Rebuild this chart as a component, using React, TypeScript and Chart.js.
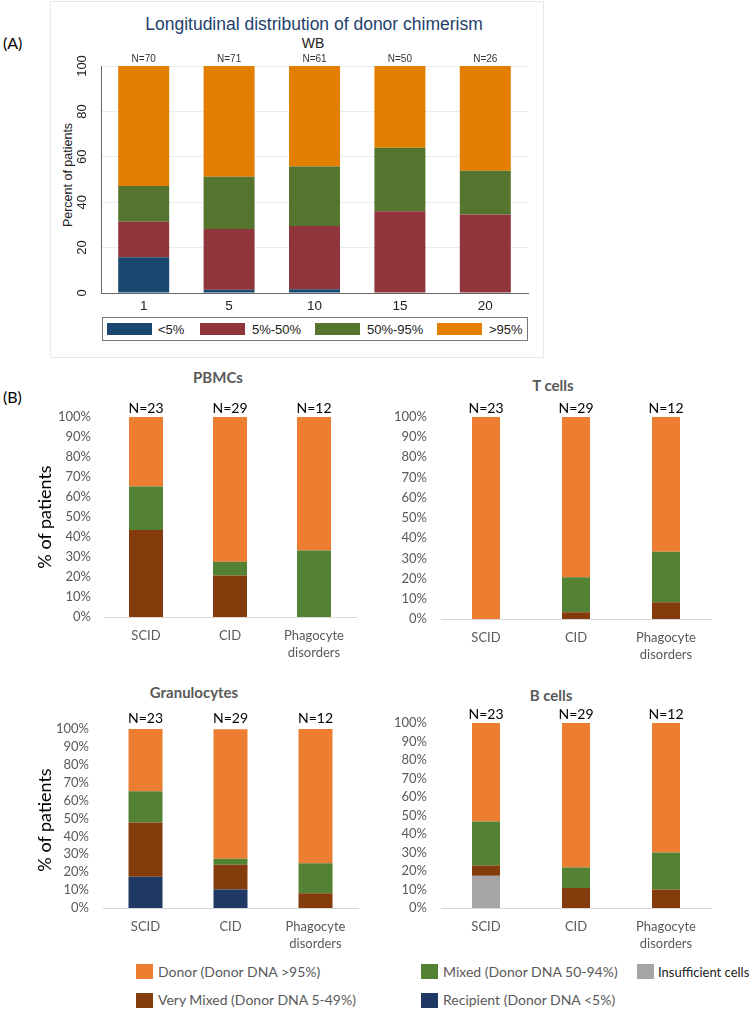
import React, { useEffect, useRef } from 'react';
import { Chart, registerables } from 'chart.js';

Chart.register(...registerables);

// ---------------- Panel A data ----------------
const categoriesA = ['1', '5', '10', '15', '20'];
const nA = [70, 71, 61, 50, 26];
const aBelow5 = [15.7, 1.4, 1.6, 0, 0];
const a5to50 = [15.7, 26.8, 27.9, 36.0, 34.6];
const a50to95 = [15.7, 23.0, 26.2, 28.0, 19.2];
const aAbove95 = [52.9, 48.8, 44.3, 36.0, 46.2];
const legendA = ['<5%', '5%-50%', '50%-95%', '>95%'];
const colorsA = ['#1a476f', '#90353b', '#55752f', '#e37e00'];

// ---------------- Panel B data ----------------
const categoriesB = ['SCID', 'CID', ['Phagocyte', 'disorders']];
const nB = [23, 29, 12];

const pbmcVeryMixed = [43.5, 20.7, 0];
const pbmcMixed = [21.7, 6.9, 33.3];
const pbmcDonor = [34.8, 72.4, 66.7];

const tcellVeryMixed = [0, 3.4, 8.3];
const tcellMixed = [0, 17.2, 25.0];
const tcellDonor = [100, 79.3, 66.7];

const granRecipient = [17.4, 10.3, 0];
const granVeryMixed = [30.4, 13.8, 8.3];
const granMixed = [17.4, 3.4, 16.7];
const granDonor = [34.8, 72.4, 75.0];

const bcellInsufficient = [17.4, 0, 0];
const bcellVeryMixed = [5.6, 10.8, 10.0];
const bcellMixed = [23.7, 11.1, 20.0];
const bcellDonor = [53.3, 78.1, 70.0];

const legendB = {
  donor: 'Donor (Donor DNA >95%)',
  mixed: 'Mixed (Donor DNA 50-94%)',
  insufficient: 'Insufficient cells',
  veryMixed: 'Very Mixed (Donor DNA 5-49%)',
  recipient: 'Recipient (Donor DNA <5%)',
};
const colorsB = {
  donor: '#ed7d31',
  mixed: '#548235',
  veryMixed: '#843c0c',
  recipient: '#203864',
  insufficient: '#a5a5a5',
};

const FONT_A = '"Liberation Sans", Arial, sans-serif';
const FONT_B = 'Lato, "Open Sans", sans-serif';

function nLabelsPlugin(values: number[], font: string, color: string, offset: number) {
  return {
    id: 'nLabels',
    afterDatasetsDraw(chart: any) {
      const { ctx, chartArea } = chart;
      const xs = chart.scales.x;
      ctx.save();
      ctx.font = font;
      ctx.fillStyle = color;
      ctx.textAlign = 'center';
      ctx.textBaseline = 'middle';
      values.forEach((n, i) => {
        ctx.fillText('N=' + n, xs.getPixelForValue(i), chartArea.top - offset);
      });
      ctx.restore();
    },
  };
}

type Dims = {
  left: number; top: number; width: number; height: number;
  padTop: number; padRight: number; yW: number; xH: number;
};

function ChartCanvas({ dims, build }: { dims: Dims; build: () => any }) {
  const ref = useRef<HTMLCanvasElement | null>(null);
  useEffect(() => {
    const chart = new Chart(ref.current as HTMLCanvasElement, build());
    return () => chart.destroy();
  }, []);
  return (
    <div style={{ position: 'absolute', left: dims.left, top: dims.top, width: dims.width, height: dims.height }}>
      <canvas ref={ref} width={dims.width} height={dims.height} style={{ display: 'block', width: dims.width, height: dims.height }} />
    </div>
  );
}

function buildA(d: Dims) {
  const series = [aBelow5, a5to50, a50to95, aAbove95];
  return {
    type: 'bar',
    data: {
      labels: categoriesA,
      datasets: series.map((s, i) => ({
        label: legendA[i],
        data: s,
        backgroundColor: colorsA[i],
        borderWidth: 0,
        categoryPercentage: 1,
        barPercentage: 0.597,
      })),
    },
    options: {
      animation: false,
      responsive: false,
      maintainAspectRatio: false,
      layout: { padding: { top: d.padTop, right: d.padRight, left: 0, bottom: 0 } },
      plugins: { legend: { display: false }, tooltip: { enabled: false } },
      scales: {
        x: {
          stacked: true,
          grid: { display: false, drawTicks: false },
          border: { display: true, color: '#666666', width: 1 },
          ticks: { color: '#222', font: { family: FONT_A, size: 13.5 }, padding: 5, maxRotation: 0, autoSkip: false },
          afterFit: (s: any) => { s.height = d.xH; },
        },
        y: {
          stacked: true,
          min: 0,
          max: 100,
          grid: { color: '#e4eef1', drawTicks: false },
          border: { display: true, color: '#666666', width: 1 },
          ticks: {
            stepSize: 20,
            autoSkip: false,
            minRotation: 90,
            maxRotation: 90,
            crossAlign: 'center',
            padding: 8,
            color: '#222',
            font: { family: FONT_A, size: 13 },
          },
          afterFit: (s: any) => { s.width = d.yW; },
        },
      },
    },
    plugins: [nLabelsPlugin(nA, `10px ${FONT_A}`, '#333', 7)],
  };
}

function buildB(d: Dims, series: { data: number[]; key: string }[], barPct: number, yPad: number, nOffset: number) {
  return {
    type: 'bar',
    data: {
      labels: categoriesB,
      datasets: series.map((s) => ({
        label: (legendB as any)[s.key],
        data: s.data,
        backgroundColor: (colorsB as any)[s.key],
        borderWidth: 0,
        categoryPercentage: 1,
        barPercentage: barPct,
      })),
    },
    options: {
      animation: false,
      responsive: false,
      maintainAspectRatio: false,
      layout: { padding: { top: d.padTop, right: d.padRight, left: 0, bottom: 0 } },
      plugins: { legend: { display: false }, tooltip: { enabled: false } },
      scales: {
        x: {
          stacked: true,
          grid: { display: false, drawTicks: false },
          border: { display: true, color: '#d9d9d9', width: 1 },
          ticks: { color: '#595959', font: { family: FONT_B, size: 13, lineHeight: 1.3 }, padding: 10, maxRotation: 0, autoSkip: false },
          afterFit: (s: any) => { s.height = d.xH; },
        },
        y: {
          stacked: true,
          min: 0,
          max: 100,
          grid: { display: false, drawTicks: false },
          border: { display: false },
          ticks: {
            stepSize: 10,
            autoSkip: false,
            callback: (v: any) => v + '%',
            color: '#595959',
            font: { family: FONT_B, size: 13 },
            padding: yPad,
          },
          afterFit: (s: any) => { s.width = d.yW; },
        },
      },
    },
    plugins: [nLabelsPlugin(nB, `14px ${FONT_B}`, '#000', nOffset)],
  };
}

const dimsA: Dims = { left: 50, top: 48, width: 488, height: 269, padTop: 18, padRight: 10, yW: 51, xH: 24 };
const dimsPBMC: Dims = { left: 52, top: 395, width: 314, height: 267, padTop: 22, padRight: 10, yW: 52, xH: 45 };
const dimsT: Dims = { left: 390, top: 395, width: 331, height: 269, padTop: 20, padRight: 10, yW: 51, xH: 45 };
const dimsGran: Dims = { left: 52, top: 705, width: 316, height: 248, padTop: 24, padRight: 10, yW: 51, xH: 45 };
const dimsB: Dims = { left: 390, top: 700, width: 331, height: 253, padTop: 23, padRight: 10, yW: 51, xH: 45 };

function T({ x, y, children, style, anchor = 'center', rotate = false }: any) {
  const tr = anchor === 'center'
    ? `translate(-50%, -50%)${rotate ? ' rotate(-90deg)' : ''}`
    : 'translate(0, -50%)';
  return (
    <div style={{ position: 'absolute', left: x, top: y, transform: tr, whiteSpace: 'nowrap', lineHeight: 1, ...style }}>
      {children}
    </div>
  );
}

const swatchAx = [107, 200, 315, 437];
const textAx = [158, 252, 367, 489];

export default function App() {
  const subTitle = { fontFamily: FONT_B, fontWeight: 700, fontSize: 15, color: '#595959' };
  const yTitle = { fontFamily: FONT_B, fontSize: 18, color: '#000' };
  const legText = { fontFamily: FONT_B, fontSize: 14, color: '#595959' };
  return (
    <div style={{ position: 'absolute', left: 0, top: 0, width: 751, height: 1009, background: '#fff', overflow: 'hidden' }}>
      {/* Panel A frame */}
      <div style={{ position: 'absolute', left: 50, top: 1, width: 492, height: 355, border: '1px solid #e3e9ec' }} />
      <T x={3} y={43} anchor="left" style={{ fontFamily: FONT_B, fontSize: 16, color: '#000' }}>(A)</T>
      <T x={314} y={25} style={{ fontFamily: FONT_A, fontSize: 17.5, color: '#24406c' }}>Longitudinal distribution of donor chimerism</T>
      <T x={313} y={43} style={{ fontFamily: FONT_A, fontSize: 14, color: '#222' }}>WB</T>
      <T x={68} y={175} rotate style={{ fontFamily: FONT_A, fontSize: 12.5, color: '#222' }}>Percent of patients</T>
      <ChartCanvas dims={dimsA} build={() => buildA(dimsA)} />
      {/* Panel A legend */}
      <div style={{ position: 'absolute', left: 102, top: 317, width: 424, height: 22, border: '1px solid #777' }} />
      {legendA.map((l, i) => (
        <React.Fragment key={l}>
          <div style={{ position: 'absolute', left: swatchAx[i], top: 323, width: 45, height: 12, background: colorsA[i] }} />
          <T x={textAx[i]} y={329} anchor="left" style={{ fontFamily: FONT_A, fontSize: 13, color: '#222' }}>{l}</T>
        </React.Fragment>
      ))}

      {/* Panel B */}
      <T x={3} y={397} anchor="left" style={{ fontFamily: FONT_B, fontSize: 16, color: '#000' }}>(B)</T>
      <T x={218} y={377} style={subTitle}>PBMCs</T>
      <T x={553} y={385} style={subTitle}>T cells</T>
      <T x={194} y={692} style={subTitle}>Granulocytes</T>
      <T x={551} y={695} style={subTitle}>B cells</T>

      <ChartCanvas dims={dimsPBMC} build={() => buildB(dimsPBMC, [
        { data: pbmcVeryMixed, key: 'veryMixed' },
        { data: pbmcMixed, key: 'mixed' },
        { data: pbmcDonor, key: 'donor' },
      ], 0.405, 13, 9)} />
      <ChartCanvas dims={dimsT} build={() => buildB(dimsT, [
        { data: tcellVeryMixed, key: 'veryMixed' },
        { data: tcellMixed, key: 'mixed' },
        { data: tcellDonor, key: 'donor' },
      ], 0.311, 14, 8)} />
      <ChartCanvas dims={dimsGran} build={() => buildB(dimsGran, [
        { data: granRecipient, key: 'recipient' },
        { data: granVeryMixed, key: 'veryMixed' },
        { data: granMixed, key: 'mixed' },
        { data: granDonor, key: 'donor' },
      ], 0.4, 14, 11)} />
      <ChartCanvas dims={dimsB} build={() => buildB(dimsB, [
        { data: bcellInsufficient, key: 'insufficient' },
        { data: bcellVeryMixed, key: 'veryMixed' },
        { data: bcellMixed, key: 'mixed' },
        { data: bcellDonor, key: 'donor' },
      ], 0.311, 14, 9)} />

      <T x={44} y={517} rotate style={yTitle}>% of patients</T>
      <T x={44} y={820} rotate style={yTitle}>% of patients</T>

      {/* Panel B legend */}
      <div style={{ position: 'absolute', left: 136, top: 964, width: 17, height: 15, background: colorsB.donor }} />
      <T x={158} y={972} anchor="left" style={legText}>{legendB.donor}</T>
      <div style={{ position: 'absolute', left: 421, top: 964, width: 17, height: 15, background: colorsB.mixed }} />
      <T x={443} y={972} anchor="left" style={legText}>{legendB.mixed}</T>
      <div style={{ position: 'absolute', left: 637, top: 964, width: 17, height: 15, background: colorsB.insufficient }} />
      <T x={658} y={972} anchor="left" style={{ ...legText, fontSize: 13, color: '#222' }}>{legendB.insufficient}</T>
      <div style={{ position: 'absolute', left: 136, top: 993, width: 17, height: 15, background: colorsB.veryMixed }} />
      <T x={158} y={1000} anchor="left" style={legText}>{legendB.veryMixed}</T>
      <div style={{ position: 'absolute', left: 421, top: 993, width: 17, height: 15, background: colorsB.recipient }} />
      <T x={443} y={1000} anchor="left" style={legText}>{legendB.recipient}</T>
    </div>
  );
}
